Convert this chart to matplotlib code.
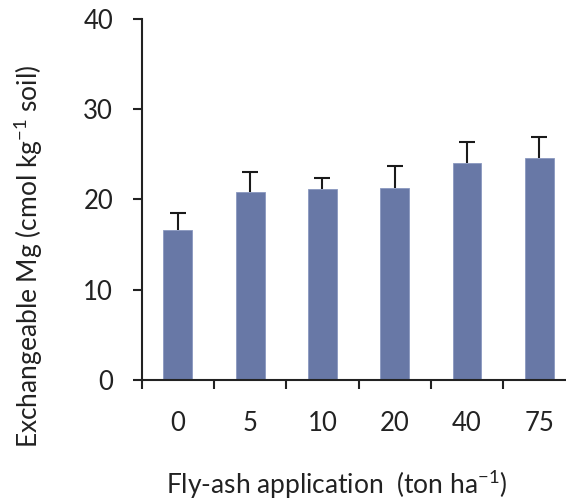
import numpy as np
import matplotlib
matplotlib.use("Agg")
import matplotlib.pyplot as plt

# Fly-ash rates (ton/ha) and exchangeable Mg (cmol/kg soil)
rates = ["0", "5", "10", "20", "40", "75"]
mg_mean = [16.6, 20.8, 21.2, 21.3, 24.0, 24.6]
mg_err = [1.9, 2.3, 1.2, 2.4, 2.4, 2.3]

plt.rcParams['font.family'] = ['Lato', 'DejaVu Sans']
plt.rcParams['mathtext.default'] = 'regular'

fig = plt.figure(figsize=(5.66, 5.01), dpi=100)
ax = fig.add_axes([0.2503, 0.2415, 0.7664, 0.7206])

x = np.arange(len(rates))
ax.bar(x, mg_mean, width=0.4, color='#6878a6', edgecolor='#8a98c0', linewidth=0.6,
       zorder=2)
eb = ax.errorbar(x, mg_mean, yerr=[np.zeros(len(mg_err)), mg_err], fmt='none',
                 ecolor='#1a1a1a', elinewidth=1.5, capsize=5.5, capthick=1.5,
                 zorder=3)
# only the upper cap is shown
eb[1][0].set_visible(False)

ax.set_xlim(-0.5, len(rates) - 0.5)
ax.set_ylim(0, 40)
ax.set_yticks([0, 10, 20, 30, 40])
ax.set_xticks(x)
ax.set_xticklabels(rates)
ax.set_xticks(np.arange(-0.5, len(rates), 1.0), minor=True)

for s in ['top', 'right']:
    ax.spines[s].set_visible(False)
for s in ['left', 'bottom']:
    ax.spines[s].set_linewidth(1.5)
    ax.spines[s].set_color('#222222')

ax.tick_params(axis='y', direction='out', length=6.5, width=1.5, color='#222222',
               labelsize=18.5, pad=14, labelcolor='#222222')
ax.tick_params(axis='x', which='major', length=0, labelsize=18.5, pad=22,
               labelcolor='#222222')
ax.tick_params(axis='x', which='minor', direction='out', length=6.5, width=1.5,
               color='#222222')

ax.set_ylabel('Exchangeable Mg (cmol kg$^{-1}$ soil)', fontsize=19,
              color='#222222', va='center')
ax.yaxis.set_label_coords((29 - 141.7) / 433.8, (380 - 256) / 361)
ax.set_xlabel('Fly-ash application  (ton ha$^{-1}$)', fontsize=19,
              color='#222222', va='center')
ax.xaxis.set_label_coords((336.7 - 141.7) / 433.8, (380 - 485) / 361)

fig.savefig('out.png', dpi=100)
